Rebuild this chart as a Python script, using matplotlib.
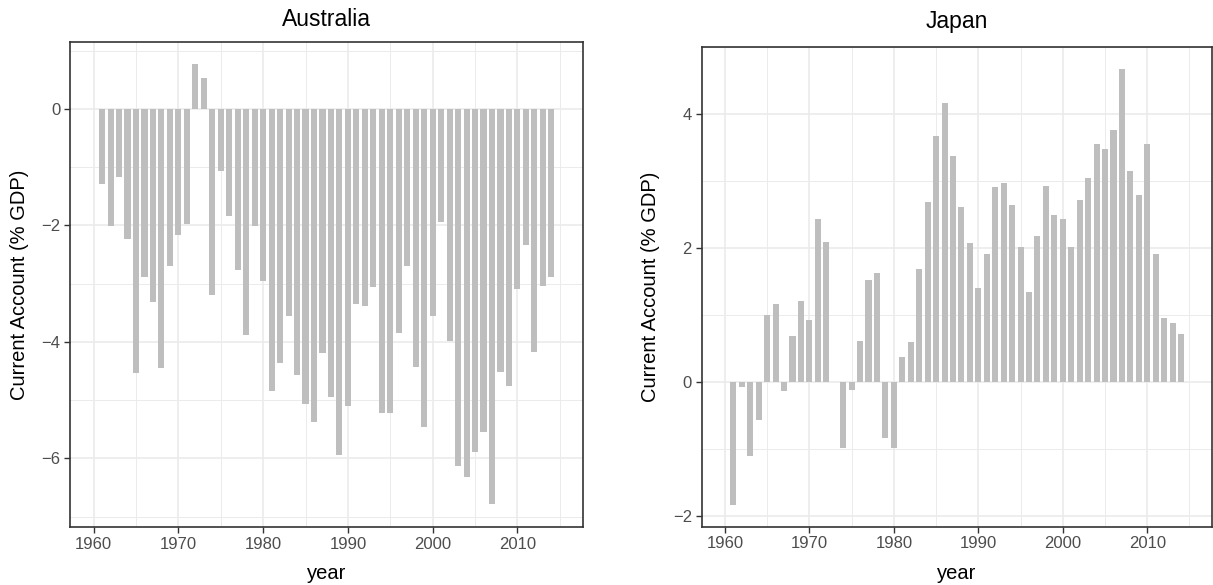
import matplotlib
matplotlib.use("Agg")
import matplotlib.pyplot as plt
from matplotlib.ticker import MultipleLocator
import numpy as np

plt.rcParams['font.family'] = ['Liberation Sans', 'DejaVu Sans']

years = list(range(1961, 2015))

# current account balance, % of GDP
australia = [-1.29, -2.01, -1.16, -2.23, -4.54, -2.88, -3.31, -4.45, -2.70, -2.17,
             -1.98, 0.77, 0.54, -3.19, -1.07, -1.83, -2.77, -3.89, -2.01, -2.95,
             -4.84, -4.37, -3.56, -4.57, -5.07, -5.37, -4.19, -4.95, -5.95, -5.11,
             -3.35, -3.39, -3.05, -5.22, -5.22, -3.85, -2.70, -4.43, -5.46, -3.55,
             -1.94, -3.99, -6.13, -6.32, -5.90, -5.54, -6.79, -4.52, -4.75, -3.10,
             -2.34, -4.17, -3.04, -2.88]

japan = [-1.83, -0.07, -1.11, -0.57, 1.00, 1.16, -0.14, 0.69, 1.20, 0.92,
         2.43, 2.09, 0.00, -0.98, -0.12, 0.61, 1.52, 1.63, -0.83, -0.98,
         0.37, 0.59, 1.68, 2.68, 3.67, 4.16, 3.37, 2.61, 2.07, 1.40,
         1.91, 2.90, 2.96, 2.64, 2.01, 1.34, 2.17, 2.92, 2.49, 2.43,
         2.01, 2.71, 3.04, 3.55, 3.47, 3.76, 4.67, 3.14, 2.79, 3.55,
         1.91, 0.95, 0.88, 0.72]

W, H = 1213, 585
fig = plt.figure(figsize=(W / 100, H / 100), dpi=100)

def px_axes(left, top, right, bottom):
    return fig.add_axes([left / W, 1 - bottom / H, (right - left) / W, (bottom - top) / H])

def style(ax, title, ylim, title_pad):
    ax.set_xlim(1957.25, 2017.7)
    ax.set_ylim(*ylim)
    ax.xaxis.set_major_locator(MultipleLocator(10))
    ax.xaxis.set_minor_locator(MultipleLocator(5))
    ax.yaxis.set_major_locator(MultipleLocator(2))
    ax.yaxis.set_minor_locator(MultipleLocator(1))
    ax.grid(which='major', color='#ebebeb', linewidth=1.2)
    ax.grid(which='minor', color='#ebebeb', linewidth=0.7)
    ax.set_axisbelow(True)
    for s in ax.spines.values():
        s.set_color('#333333')
        s.set_linewidth(1.2)
    ax.tick_params(which='major', length=4, width=1.0, color='#333333',
                   labelsize=12, labelcolor='#4d4d4d', pad=3)
    ax.tick_params(which='minor', length=0)
    ax.set_title(title, fontsize=16.5, pad=title_pad)
    ax.set_xlabel('year', fontsize=14.5, labelpad=9)
    ax.set_ylabel('Current Account (% GDP)', fontsize=14.5, labelpad=9)

ax1 = px_axes(70.3, 41.7, 582.7, 527)
ax1.bar(years, australia, width=0.72, color='#bebebe', linewidth=0)
style(ax1, 'Australia', (-7.18, 1.156), 11.5)

ax2 = px_axes(701.7, 46.7, 1212.3, 526.7)
ax2.bar(years, japan, width=0.72, color='#bebebe', linewidth=0)
style(ax2, 'Japan', (-2.16, 5.0), 13.5)

fig.savefig('out.png', dpi=100)
